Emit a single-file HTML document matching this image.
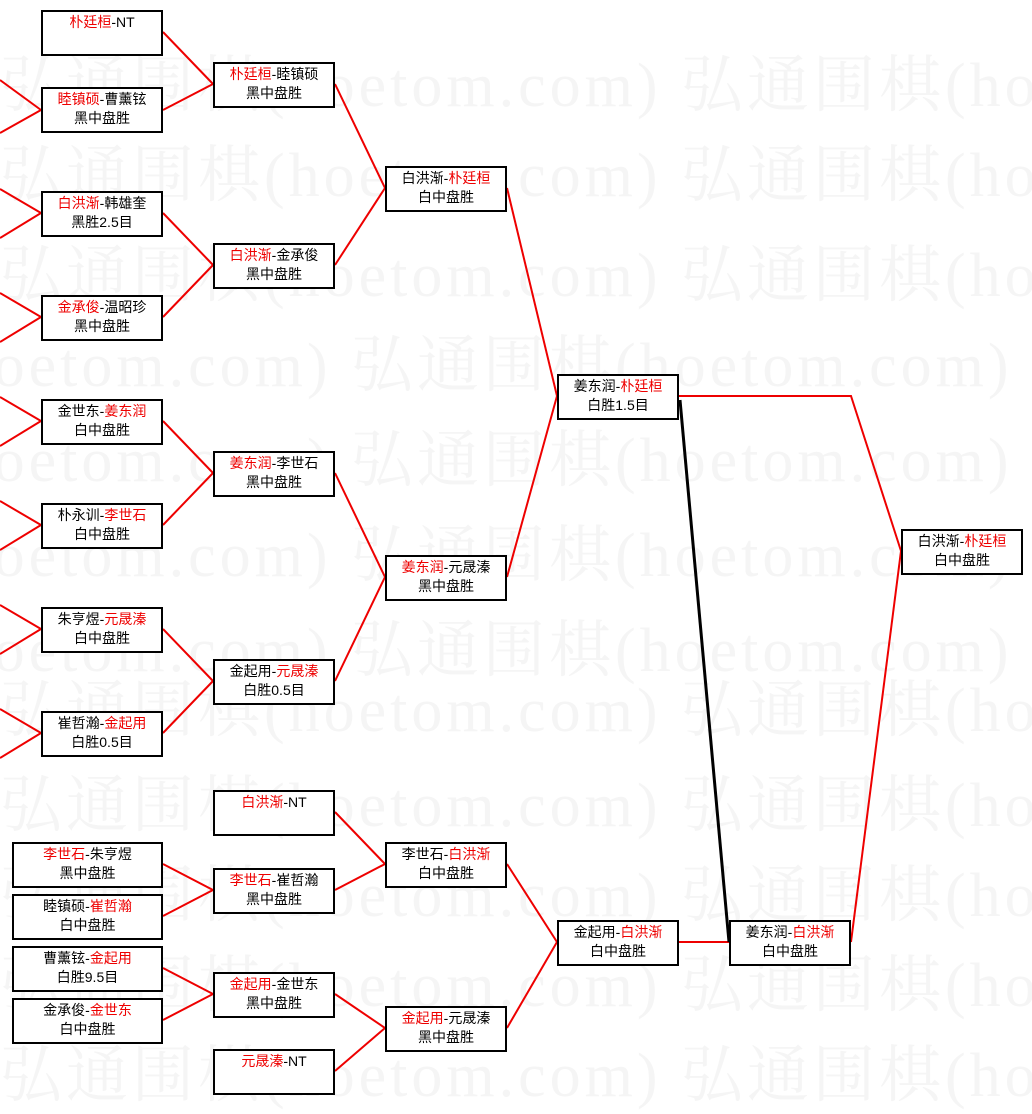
<!DOCTYPE html>
<html><head><meta charset="utf-8">
<style>
body{margin:0;width:1032px;height:1105px;background:#fff;position:relative;overflow:hidden;font-family:"Liberation Sans","Noto Sans CJK SC",sans-serif}
.wm{position:absolute;left:0;font-size:62px;color:#f5f5f5;white-space:nowrap;font-family:"Liberation Serif","Noto Serif CJK SC",serif;letter-spacing:4px}
.b{position:absolute;width:118px;height:41px;border:2px solid #000;background:#fff;text-align:center;font-size:14px;line-height:19px;color:#000;padding-top:1px;box-sizing:content-box}
.w{width:147px}
.r{color:#e00}
svg{position:absolute;left:0;top:0}
</style></head><body>
<div class="wm" style="top:35px;left:0">弘通围棋(hoetom.com) 弘通围棋(hoetom.com)</div>
<div class="wm" style="top:125px;left:0">弘通围棋(hoetom.com) 弘通围棋(hoetom.com)</div>
<div class="wm" style="top:225px;left:0">弘通围棋(hoetom.com) 弘通围棋(hoetom.com)</div>
<div class="wm" style="top:315px;left:-330px">弘通围棋(hoetom.com) 弘通围棋(hoetom.com) 弘通围棋(hoetom.com)</div>
<div class="wm" style="top:410px;left:-330px">弘通围棋(hoetom.com) 弘通围棋(hoetom.com) 弘通围棋(hoetom.com)</div>
<div class="wm" style="top:505px;left:-330px">弘通围棋(hoetom.com) 弘通围棋(hoetom.com) 弘通围棋(hoetom.com)</div>
<div class="wm" style="top:600px;left:-330px">弘通围棋(hoetom.com) 弘通围棋(hoetom.com) 弘通围棋(hoetom.com)</div>
<div class="wm" style="top:660px;left:0">弘通围棋(hoetom.com) 弘通围棋(hoetom.com)</div>
<div class="wm" style="top:755px;left:0">弘通围棋(hoetom.com) 弘通围棋(hoetom.com)</div>
<div class="wm" style="top:845px;left:0">弘通围棋(hoetom.com) 弘通围棋(hoetom.com)</div>
<div class="wm" style="top:935px;left:0">弘通围棋(hoetom.com) 弘通围棋(hoetom.com)</div>
<div class="wm" style="top:1025px;left:0">弘通围棋(hoetom.com) 弘通围棋(hoetom.com)</div>
<svg width="1032" height="1105" fill="none" stroke="#e00" stroke-width="2">
<g>
<line x1="163" y1="32" x2="213" y2="84"/><line x1="163" y1="110" x2="213" y2="84"/>
<line x1="163" y1="213" x2="213" y2="265"/><line x1="163" y1="317" x2="213" y2="265"/>
<line x1="163" y1="421" x2="213" y2="473"/><line x1="163" y1="525" x2="213" y2="473"/>
<line x1="163" y1="629" x2="213" y2="681"/><line x1="163" y1="733" x2="213" y2="681"/>
<line x1="335" y1="84" x2="385" y2="188"/><line x1="335" y1="265" x2="385" y2="188"/>
<line x1="335" y1="473" x2="385" y2="577"/><line x1="335" y1="681" x2="385" y2="577"/>
<line x1="507" y1="188" x2="557" y2="396"/><line x1="507" y1="577" x2="557" y2="396"/>
<line x1="335" y1="812" x2="385" y2="864"/><line x1="335" y1="890" x2="385" y2="864"/>
<line x1="163" y1="864" x2="213" y2="890"/><line x1="163" y1="916" x2="213" y2="890"/>
<line x1="163" y1="968" x2="213" y2="994"/><line x1="163" y1="1020" x2="213" y2="994"/>
<line x1="335" y1="994" x2="385" y2="1028"/><line x1="335" y1="1071" x2="385" y2="1028"/>
<line x1="507" y1="864" x2="557" y2="942"/><line x1="507" y1="1028" x2="557" y2="942"/>
<line x1="679" y1="942" x2="729" y2="942"/>
<polyline points="679,396 851,396 901,551"/>
<line x1="851" y1="942" x2="901" y2="551"/>
<line x1="0" y1="80" x2="41" y2="110"/><line x1="0" y1="133" x2="41" y2="110"/>
<line x1="0" y1="189" x2="41" y2="213"/><line x1="0" y1="238" x2="41" y2="213"/>
<line x1="0" y1="293" x2="41" y2="317"/><line x1="0" y1="342" x2="41" y2="317"/>
<line x1="0" y1="397" x2="41" y2="421"/><line x1="0" y1="446" x2="41" y2="421"/>
<line x1="0" y1="501" x2="41" y2="525"/><line x1="0" y1="550" x2="41" y2="525"/>
<line x1="0" y1="605" x2="41" y2="629"/><line x1="0" y1="654" x2="41" y2="629"/>
<line x1="0" y1="709" x2="41" y2="733"/><line x1="0" y1="758" x2="41" y2="733"/>
</g>
<line x1="680" y1="400" x2="729" y2="942" stroke="#000" stroke-width="3"/>
</svg>

<div class="b" style="left:41px;top:10px"><span class="r">朴廷桓</span>-NT</div>
<div class="b" style="left:41px;top:87px"><span class="r">睦镇硕</span>-曹薰铉<br>黑中盘胜</div>
<div class="b" style="left:41px;top:191px"><span class="r">白洪渐</span>-韩雄奎<br>黑胜2.5目</div>
<div class="b" style="left:41px;top:295px"><span class="r">金承俊</span>-温昭珍<br>黑中盘胜</div>
<div class="b" style="left:41px;top:399px">金世东-<span class="r">姜东润</span><br>白中盘胜</div>
<div class="b" style="left:41px;top:503px">朴永训-<span class="r">李世石</span><br>白中盘胜</div>
<div class="b" style="left:41px;top:607px">朱亨煜-<span class="r">元晟溱</span><br>白中盘胜</div>
<div class="b" style="left:41px;top:711px">崔哲瀚-<span class="r">金起用</span><br>白胜0.5目</div>

<div class="b" style="left:213px;top:62px"><span class="r">朴廷桓</span>-睦镇硕<br>黑中盘胜</div>
<div class="b" style="left:213px;top:243px"><span class="r">白洪渐</span>-金承俊<br>黑中盘胜</div>
<div class="b" style="left:213px;top:451px"><span class="r">姜东润</span>-李世石<br>黑中盘胜</div>
<div class="b" style="left:213px;top:659px">金起用-<span class="r">元晟溱</span><br>白胜0.5目</div>

<div class="b" style="left:385px;top:166px">白洪渐-<span class="r">朴廷桓</span><br>白中盘胜</div>
<div class="b" style="left:385px;top:555px"><span class="r">姜东润</span>-元晟溱<br>黑中盘胜</div>

<div class="b" style="left:557px;top:374px">姜东润-<span class="r">朴廷桓</span><br>白胜1.5目</div>
<div class="b" style="left:901px;top:529px">白洪渐-<span class="r">朴廷桓</span><br>白中盘胜</div>

<div class="b" style="left:213px;top:790px"><span class="r">白洪渐</span>-NT</div>
<div class="b w" style="left:12px;top:842px"><span class="r">李世石</span>-朱亨煜<br>黑中盘胜</div>
<div class="b w" style="left:12px;top:894px">睦镇硕-<span class="r">崔哲瀚</span><br>白中盘胜</div>
<div class="b w" style="left:12px;top:946px">曹薰铉-<span class="r">金起用</span><br>白胜9.5目</div>
<div class="b w" style="left:12px;top:998px">金承俊-<span class="r">金世东</span><br>白中盘胜</div>
<div class="b" style="left:213px;top:868px"><span class="r">李世石</span>-崔哲瀚<br>黑中盘胜</div>
<div class="b" style="left:213px;top:972px"><span class="r">金起用</span>-金世东<br>黑中盘胜</div>
<div class="b" style="left:213px;top:1049px"><span class="r">元晟溱</span>-NT</div>
<div class="b" style="left:385px;top:842px">李世石-<span class="r">白洪渐</span><br>白中盘胜</div>
<div class="b" style="left:385px;top:1006px"><span class="r">金起用</span>-元晟溱<br>黑中盘胜</div>
<div class="b" style="left:557px;top:920px">金起用-<span class="r">白洪渐</span><br>白中盘胜</div>
<div class="b" style="left:729px;top:920px">姜东润-<span class="r">白洪渐</span><br>白中盘胜</div>
</body></html>
